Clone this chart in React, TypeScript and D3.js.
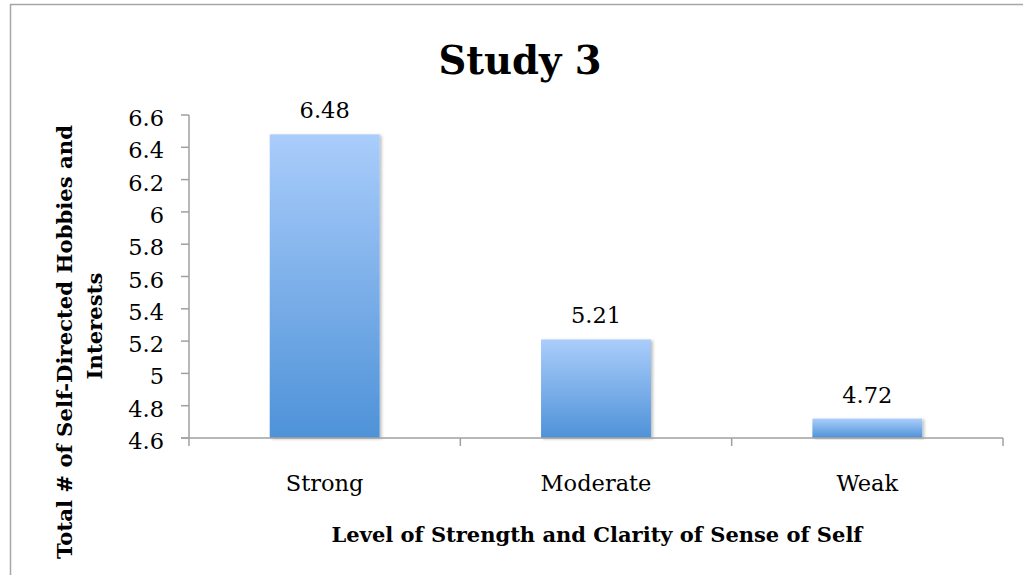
import React from "react";
import * as d3 from "d3";

const categories = ["Strong", "Moderate", "Weak"];
const values = [6.48, 5.21, 4.72];
const yTicks = [4.6, 4.8, 5, 5.2, 5.4, 5.6, 5.8, 6, 6.2, 6.4, 6.6];
const yTickLabels = ["4.6", "4.8", "5", "5.2", "5.4", "5.6", "5.8", "6", "6.2", "6.4", "6.6"];
const title = "Study 3";
const xTitle = "Level of Strength and Clarity of Sense of Self";
const yTitleLines = ["Total # of Self-Directed Hobbies and", "Interests"];

const W = 1023;
const H = 575;
const FONT = "'DejaVu Serif', serif";

export default function App() {
  const plotLeft = 189;
  const plotRight = 1003;
  const plotTop = 115;
  const plotBottom = 438;

  const x = d3.scaleBand<string>().domain(categories).range([plotLeft, plotRight]).padding(0);
  const y = d3.scaleLinear().domain([4.6, 6.6]).range([plotBottom, plotTop]);
  const barW = x.bandwidth() * 0.405;
  const axisColor = "#a0a0a0";
  const boundaries = [...categories.map((c) => x(c) as number), plotRight];
  const fs = 22.5;

  return (
    <svg
      width={W}
      height={H}
      style={{ position: "absolute", left: 0, top: 0, background: "#fff" }}
      fontFamily={FONT}
    >
      <defs>
        <linearGradient id="barGrad" x1="0" y1="0" x2="0" y2="1">
          <stop offset="0%" stopColor="#aacdfb" />
          <stop offset="100%" stopColor="#4e92d8" />
        </linearGradient>
        <filter id="shadow" x="-10%" y="-10%" width="125%" height="120%">
          <feDropShadow dx="2" dy="1" stdDeviation="1.5" floodColor="#000" floodOpacity="0.25" />
        </filter>
      </defs>
      <rect x={0} y={0} width={W} height={H} fill="#fff" />
      <line x1={10} y1={4.5} x2={W} y2={4.5} stroke="#a6a6a6" strokeWidth={1.5} />
      <line x1={10.5} y1={4} x2={10.5} y2={H} stroke="#a6a6a6" strokeWidth={1.5} />

      <text x={520} y={74} textAnchor="middle" fontSize={38.5} fontWeight="bold" fill="#000">
        {title}
      </text>

      {categories.map((c, i) => {
        const cx = (x(c) as number) + x.bandwidth() / 2;
        const top = y(values[i]);
        return (
          <g key={c}>
            <rect
              x={cx - barW / 2}
              y={top}
              width={barW}
              height={plotBottom - top}
              fill="url(#barGrad)"
              filter="url(#shadow)"
            />
            <text x={cx} y={top - 16} textAnchor="middle" fontSize={fs} fill="#000">
              {values[i].toFixed(2)}
            </text>
            <text x={cx} y={491} textAnchor="middle" fontSize={fs} fill="#000">
              {c}
            </text>
          </g>
        );
      })}

      <line x1={plotLeft} y1={plotTop} x2={plotLeft} y2={plotBottom} stroke={axisColor} strokeWidth={1.5} />
      {yTicks.map((t, i) => (
        <g key={t}>
          <line x1={plotLeft - 8} y1={y(t)} x2={plotLeft} y2={y(t)} stroke={axisColor} strokeWidth={1.5} />
          <text x={164} y={y(t) + 11} textAnchor="end" fontSize={fs} fill="#000">
            {yTickLabels[i]}
          </text>
        </g>
      ))}

      <line x1={plotLeft - 8} y1={plotBottom} x2={plotRight} y2={plotBottom} stroke={axisColor} strokeWidth={1.5} />
      {boundaries.map((b, i) => (
        <line key={i} x1={b} y1={plotBottom} x2={b} y2={plotBottom + 8} stroke={axisColor} strokeWidth={1.5} />
      ))}

      <text x={597} y={542} textAnchor="middle" fontSize={21} fontWeight="bold" fill="#000">
        {xTitle}
      </text>
      <text
        transform={`translate(72,342) rotate(-90)`}
        textAnchor="middle"
        fontSize={21.2}
        fontWeight="bold"
        fill="#000"
      >
        {yTitleLines[0]}
      </text>
      <text
        transform={`translate(102,326) rotate(-90)`}
        textAnchor="middle"
        fontSize={21.2}
        fontWeight="bold"
        fill="#000"
      >
        {yTitleLines[1]}
      </text>
    </svg>
  );
}
